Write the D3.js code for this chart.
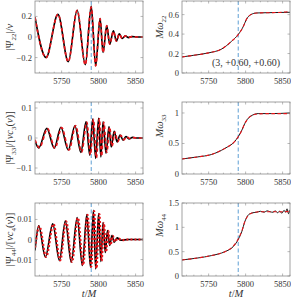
<!DOCTYPE html>
<html>
<head>
<meta charset="utf-8">
<script src="https://cdn.jsdelivr.net/npm/d3@7"></script>
<style>
  body { margin: 0; background: #fff; }
  svg { display: block; }
  text { font-family: "Liberation Serif", "DejaVu Serif", serif; fill: #333; }
</style>
</head>
<body>
<svg id="draw" width="291" height="301"></svg>
<script>
// ---- data -----------------------------------------------------------------
var tDomain = [5714, 5860];
var tTicks = [5750, 5800, 5850];
var tMerger = 5790;

// Psi22 (extrema), black = NR, red = model
var psi22T = [5714, 5729, 5745, 5759, 5771, 5782, 5790, 5796, 5802, 5806, 5811, 5815, 5820, 5824, 5828, 5832, 5836, 5840, 5845, 5852, 5860];
var psi22V = [0.19, -0.20, 0.22, -0.24, 0.26, -0.27, 0.30, -0.28, 0.18, -0.15, 0.11, -0.07, 0.06, -0.04, 0.03, -0.015, 0.012, -0.006, 0.004, 0.0, 0.0];
var psi22RedV = [0.19, -0.20, 0.22, -0.24, 0.26, -0.27, 0.29, -0.28, 0.18, -0.15, 0.11, -0.07, 0.055, -0.04, 0.028, -0.015, 0.01, -0.006, 0.003, 0.0, 0.0];

// Psi33
var psi33T = [5714, 5719, 5730, 5740, 5749, 5759, 5768, 5776, 5783, 5788, 5792, 5796, 5800, 5803, 5806, 5810, 5814, 5817, 5821, 5825, 5829, 5833, 5837, 5841, 5846, 5852, 5860];
var psi33V = [-0.01, -0.033, 0.032, -0.034, 0.036, -0.04, 0.041, -0.048, 0.054, -0.057, 0.063, -0.068, 0.066, -0.063, 0.054, -0.051, 0.038, -0.03, 0.022, -0.013, 0.01, -0.007, 0.005, -0.003, 0.002, 0, 0];
var psi33RedT = [5714, 5720, 5731, 5741, 5750, 5760, 5769, 5777, 5784, 5789, 5793, 5797, 5801, 5804, 5807, 5811, 5815, 5818, 5822, 5826, 5830, 5834, 5838, 5842, 5847, 5852, 5860];
var psi33RedV = [-0.006, -0.032, 0.031, -0.034, 0.035, -0.04, 0.041, -0.047, 0.053, -0.056, 0.062, -0.066, 0.064, -0.061, 0.052, -0.048, 0.036, -0.028, 0.02, -0.012, 0.009, -0.006, 0.004, -0.002, 0.001, 0, 0];

// Psi44
var psi44T = [5714, 5719, 5728, 5738, 5747, 5755, 5763, 5771, 5778, 5784, 5789, 5793, 5796, 5800, 5803, 5806, 5809, 5812, 5815, 5818, 5821, 5825, 5830, 5840, 5860];
var psi44V = [-0.0055, 0.0068, -0.0088, 0.0078, -0.0105, 0.0092, -0.0113, 0.011, -0.013, 0.0125, -0.0138, 0.0145, -0.0147, 0.013, -0.011, 0.0085, -0.0065, 0.0045, -0.003, 0.002, -0.0013, 0.0008, -0.0004, 0, 0];
var psi44RedT = [5714, 5720, 5729, 5739, 5748, 5756, 5764, 5772, 5779, 5785, 5790, 5794, 5797, 5801, 5804, 5807, 5810, 5813, 5816, 5819, 5822, 5826, 5831, 5840, 5860];
var psi44RedV = [-0.004, 0.0066, -0.0087, 0.0077, -0.0104, 0.0091, -0.0112, 0.0108, -0.0128, 0.0123, -0.0136, 0.0142, -0.0144, 0.0127, -0.0107, 0.0082, -0.0062, 0.0043, -0.0028, 0.0018, -0.0011, 0.0006, -0.0003, 0, 0];

// frequencies
var w22T = [5714, 5730, 5750, 5768, 5781, 5790, 5797, 5801, 5807, 5815, 5830, 5845, 5860];
var w22V = [0.165, 0.182, 0.207, 0.248, 0.326, 0.395, 0.48, 0.55, 0.60, 0.617, 0.62, 0.622, 0.624];
var w22RedV = [0.165, 0.182, 0.207, 0.248, 0.326, 0.395, 0.48, 0.55, 0.60, 0.617, 0.62, 0.622, 0.632];

var w33T = [5714, 5735, 5754, 5772, 5785, 5790, 5795, 5799, 5806, 5817, 5835, 5860];
var w33V = [0.246, 0.28, 0.32, 0.42, 0.53, 0.61, 0.72, 0.83, 0.94, 0.99, 0.99, 1.0];
var w33RedV = [0.246, 0.28, 0.32, 0.42, 0.53, 0.61, 0.72, 0.83, 0.94, 0.985, 0.99, 0.99];

var w44T = [5714, 5735, 5754, 5772, 5783, 5790, 5795, 5799, 5804, 5810, 5815, 5820, 5825, 5829, 5833, 5837, 5840, 5843, 5846, 5849, 5852, 5854, 5856, 5858, 5860];
var w44V = [0.33, 0.37, 0.42, 0.50, 0.60, 0.75, 0.92, 1.12, 1.26, 1.30, 1.31, 1.33, 1.31, 1.34, 1.32, 1.31, 1.34, 1.30, 1.33, 1.29, 1.35, 1.31, 1.38, 1.28, 1.36];
var w44RedT = [5714, 5735, 5754, 5772, 5783, 5790, 5795, 5799, 5804, 5810, 5820, 5830, 5840, 5850, 5860];
var w44RedV = [0.33, 0.37, 0.42, 0.50, 0.61, 0.76, 0.93, 1.12, 1.25, 1.30, 1.32, 1.32, 1.32, 1.32, 1.33];

var annotation = "(3, +0.60, +0.60)";

// ---- layout -------------------------------------------------------------------
var cols = [[35, 143], [182, 290]];
var rows = [[1, 73], [102, 174], [203, 276]];

var panels = [
    { col: 0, row: 0, dom: [-0.35, 0.35], ticks: [-0.2, 0, 0.2], fmt: (d) => d == 0 ? "0" : d3.format(".1f")(d),
      label: [["|Ψ", ""], ["22", "s"], ["|/", ""], ["ν", "i"]], lx: 13, wave: true,
      black: [psi22T, psi22V], red: [psi22T, psi22RedV] },
    { col: 1, row: 0, dom: [0, 0.74], ticks: [0, 0.2, 0.4, 0.6], fmt: (d) => d == 0 ? "0" : d3.format(".1f")(d),
      label: [["M", "i"], ["ω", "i"], ["22", "s"]], lx: 163, lshift: -10,
      black: [w22T, w22V], red: [w22T, w22RedV] },
    { col: 0, row: 1, dom: [-0.12, 0.12], ticks: [-0.1, 0, 0.1], fmt: (d) => d == 0 ? "0" : d3.format(".1f")(d),
      label: [["|Ψ", ""], ["33", "s"], ["|/[", ""], ["νc", "i"], ["3", "s"], ["(", ""], ["ν", "i"], [")]", ""]], lx: 13, wave: true,
      black: [psi33T, psi33V], red: [psi33RedT, psi33RedV] },
    { col: 1, row: 1, dom: [0, 1.18], ticks: [0, 0.5, 1], fmt: (d) => d3.format("")(d),
      label: [["M", "i"], ["ω", "i"], ["33", "s"]], lx: 163, lshift: -12,
      black: [w33T, w33V], red: [w33T, w33RedV] },
    { col: 0, row: 2, dom: [-0.0182, 0.0182], ticks: [-0.01, 0, 0.01], fmt: (d) => d == 0 ? "0" : d3.format(".2f")(d),
      label: [["|Ψ", ""], ["44", "s"], ["|/[", ""], ["νc", "i"], ["4", "s"], ["(", ""], ["ν", "i"], [")]", ""]], lx: 13, wave: true, dots: true,
      black: [psi44T, psi44V], red: [psi44RedT, psi44RedV] },
    { col: 1, row: 2, dom: [0, 1.5], ticks: [0, 0.5, 1, 1.5], fmt: (d) => d3.format("")(d),
      label: [["M", "i"], ["ω", "i"], ["44", "s"]], lx: 163, lshift: -14,
      black: [w44T, w44V], red: [w44RedT, w44RedV] }
];

var svg = d3.select("#draw");

function writeLabel(sel, parts) {
    parts.forEach(function (p) {
        var ts = sel.append("tspan").text(p[0]);
        if (p[1] == "i") ts.attr("font-style", "italic");
        if (p[1] == "s") {
            ts.attr("font-size", 7).attr("dy", 2.5);
        }
    });
    // pull everything after a subscript back up
    sel.selectAll("tspan").each(function (d, i, nodes) {
        if (i > 0 && nodes[i - 1].getAttribute("font-size") == "7" && this.getAttribute("font-size") != "7") {
            d3.select(this).attr("dy", -2.5);
        }
    });
}

panels.forEach(function (p) {
    var x0 = cols[p.col][0], x1 = cols[p.col][1];
    var y0 = rows[p.row][0], y1 = rows[p.row][1];
    var x = d3.scaleLinear().domain(tDomain).range([x0, x1]);
    var y = d3.scaleLinear().domain(p.dom).range([y1, y0]);
    var g = svg.append("g");

    // clip
    var cid = "clip" + p.col + p.row;
    svg.append("clipPath").attr("id", cid)
        .append("rect").attr("x", x0).attr("y", y0).attr("width", x1 - x0).attr("height", y1 - y0);

    // merger line
    g.append("line")
        .attr("x1", x(tMerger)).attr("x2", x(tMerger))
        .attr("y1", y0).attr("y2", y1)
        .attr("stroke", "#4d94cf").attr("stroke-width", 0.9)
        .attr("stroke-dasharray", "4,2.5");

    var line = d3.line()
        .x((d) => x(d[0]))
        .y((d) => y(d[1]))
        .curve(d3.curveMonotoneX);

    var bl = d3.zip(p.black[0], p.black[1]);
    var rd = d3.zip(p.red[0], p.red[1]);

    g.append("path").datum(bl)
        .attr("clip-path", "url(#" + cid + ")")
        .attr("d", line)
        .attr("fill", "none")
        .attr("stroke", "#000")
        .attr("stroke-width", p.wave ? 1.6 : 0.9);
    g.append("path").datum(rd)
        .attr("clip-path", "url(#" + cid + ")")
        .attr("d", line)
        .attr("fill", "none")
        .attr("stroke", "#e8141a")
        .attr("stroke-width", p.wave ? (p.dots ? 2.2 : 1.7) : 1.1)
        .attr("stroke-dasharray", p.dots ? "2,2" : "3.5,2.5");

    // frame + ticks (matlab style, inward, all sides)
    g.append("rect")
        .attr("x", x0).attr("y", y0)
        .attr("width", x1 - x0).attr("height", y1 - y0)
        .attr("fill", "none").attr("stroke", "#8a8a8a").attr("stroke-width", 0.8);

    var minor = d3.range(5720, 5861, 10);
    minor.forEach(function (t) {
        var len = tTicks.indexOf(t) >= 0 ? 2.5 : 1.3;
        g.append("line").attr("x1", x(t)).attr("x2", x(t)).attr("y1", y1).attr("y2", y1 - len)
            .attr("stroke", "#8a8a8a").attr("stroke-width", 0.6);
        g.append("line").attr("x1", x(t)).attr("x2", x(t)).attr("y1", y0).attr("y2", y0 + len)
            .attr("stroke", "#8a8a8a").attr("stroke-width", 0.6);
    });
    p.ticks.forEach(function (v) {
        g.append("line").attr("x1", x0).attr("x2", x0 + 2.5).attr("y1", y(v)).attr("y2", y(v))
            .attr("stroke", "#8a8a8a").attr("stroke-width", 0.6);
        g.append("line").attr("x1", x1).attr("x2", x1 - 2.5).attr("y1", y(v)).attr("y2", y(v))
            .attr("stroke", "#8a8a8a").attr("stroke-width", 0.6);
        g.append("text")
            .attr("x", x0 - 3).attr("y", y(v) + 3)
            .attr("text-anchor", "end")
            .attr("font-size", 8.5)
            .text(p.fmt(v));
    });
    tTicks.forEach(function (t) {
        g.append("text")
            .attr("x", x(t)).attr("y", y1 + 11)
            .attr("text-anchor", "middle")
            .attr("font-size", 8.5)
            .text(t);
    });

    // y label
    var cy = (y0 + y1) / 2 + (p.lshift || 0);
    var lab = g.append("text")
        .attr("transform", "translate(" + p.lx + "," + cy + ") rotate(-90)")
        .attr("text-anchor", "middle")
        .attr("font-size", 10.5);
    writeLabel(lab, p.label);

    if (p.row == 2) {
        var xl = g.append("text")
            .attr("x", (x0 + x1) / 2).attr("y", y1 + 21)
            .attr("text-anchor", "middle")
            .attr("font-size", 10.5);
        writeLabel(xl, [["t", "i"], ["/", ""], ["M", "i"]]);
    }
    if (p.col == 1 && p.row == 0) {
        g.append("text")
            .attr("x", 246).attr("y", 66)
            .attr("text-anchor", "middle")
            .attr("font-size", 10)
            .text(annotation);
    }
});
</script>
</body>
</html>
